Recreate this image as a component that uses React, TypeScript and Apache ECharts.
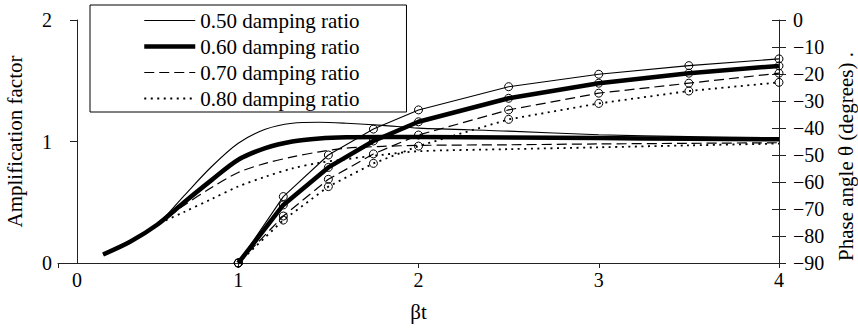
import React, { useEffect, useRef } from 'react';
import * as echarts from 'echarts';

// ---- Data ----
const seriesNames = ['0.50 damping ratio', '0.60 damping ratio', '0.70 damping ratio', '0.80 damping ratio'];

// Amplification factor curves (left axis), sampled at ampX
const ampX = [0.25, 0.4, 0.55, 0.7, 0.85, 1.0, 1.15, 1.3, 1.45, 1.6, 1.8, 2.0, 2.5, 3.0, 3.5, 4.0];
const amp50 = [0.07, 0.175, 0.315, 0.555, 0.79, 0.985, 1.1, 1.15, 1.158, 1.15, 1.133, 1.11, 1.085, 1.055, 1.04, 1.03];
const amp60 = [0.07, 0.175, 0.315, 0.5, 0.68, 0.85, 0.945, 1.0, 1.025, 1.035, 1.037, 1.037, 1.033, 1.028, 1.022, 1.018];
const amp70 = [0.07, 0.175, 0.315, 0.475, 0.62, 0.745, 0.82, 0.873, 0.915, 0.945, 0.96, 0.968, 0.973, 0.98, 0.985, 0.99];
const amp80 = [0.07, 0.175, 0.315, 0.42, 0.525, 0.63, 0.71, 0.778, 0.825, 0.855, 0.89, 0.92, 0.937, 0.952, 0.968, 0.983];

// Phase angle curves (right axis), with circle markers
const phaseX = [1, 1.25, 1.5, 1.75, 2, 2.5, 3, 3.5, 4];
const phase50 = [-90, -65.4, -50, -40.4, -33.3, -24.7, -20.1, -16.9, -14.4];
const phase60 = [-90, -68.5, -54.6, -44.8, -37.7, -29, -23.4, -19.7, -17];
const phase70 = [-90, -72.6, -59, -49.6, -42.6, -33.3, -27.1, -23.4, -19.7];
const phase80 = [-90, -74.1, -61.7, -53.1, -46.7, -36.8, -30.9, -26.3, -23.1];

// Axis ticks
const xTickValues = [0, 1, 2, 3, 4];
const xLabelValues = [0.105, 1, 2, 3, 4];

const amps = [amp50, amp60, amp70, amp80];
const phases = [phase50, phase60, phase70, phase80];

// ---- Styles ----
const FONT = 'Liberation Serif';
const lineStyles = [
  { width: 1.1, type: 'solid' as any },
  { width: 4.5, type: 'solid' as any },
  { width: 1.2, type: [10, 5] as any },
  { width: 1.8, type: [2, 4.5] as any },
];

const zip = (xs: number[], ys: number[]) => xs.map((x, i) => [x, ys[i]]);
const minus = (v: number) => (v < 0 ? '\u2212' + Math.abs(v) : String(v));

export default function App() {
  const ref = useRef<HTMLDivElement>(null);

  useEffect(() => {
    if (!ref.current) return;
    const chart = echarts.init(ref.current, undefined, { renderer: 'svg' });

    const series: any[] = [];
    seriesNames.forEach((name, i) => {
      series.push({
        name,
        type: 'line',
        xAxisIndex: 0,
        yAxisIndex: 0,
        data: zip(ampX, amps[i]),
        symbol: 'none',
        smooth: 0.3,
        lineStyle: { color: '#000', ...lineStyles[i], cap: 'butt' },
        itemStyle: { color: '#000' },
        z: 2,
      });
    });
    seriesNames.forEach((name, i) => {
      series.push({
        name,
        type: 'line',
        xAxisIndex: 0,
        yAxisIndex: 1,
        data: zip(phaseX, phases[i]),
        symbol: 'circle',
        symbolSize: 8,
        showAllSymbol: true,
        smooth: false,
        lineStyle: { color: '#000', ...lineStyles[i] },
        itemStyle: { color: 'rgba(0,0,0,0)', borderColor: '#000', borderWidth: 1 },
        z: 3,
      });
    });

    const axisFont = { fontFamily: FONT, fontSize: 20, color: '#000' };

    chart.setOption({
      animation: false,
      backgroundColor: '#fff',
      grid: { left: 58, right: 79, top: 20, bottom: 66, containLabel: false, outerBoundsMode: 'none' },
      legend: {
        data: seriesNames,
        orient: 'vertical',
        left: 90,
        top: 5,
        itemWidth: 51,
        itemHeight: 14,
        itemGap: 5,
        padding: [5, 47, 3, 52],
        borderColor: '#000',
        borderWidth: 1,
        selectedMode: false,
        itemStyle: { opacity: 0 },
        lineStyle: { width: 'inherit' },
        textStyle: { fontFamily: FONT, fontSize: 21, color: '#000', lineHeight: 20 },
      },
      xAxis: {
        type: 'value',
        min: 0,
        max: 4,
        interval: 1,
        name: 'βt',
        nameLocation: 'middle',
        nameGap: 38,
        nameTextStyle: { fontFamily: FONT, fontSize: 21, color: '#000' },
        axisLine: { onZero: false, lineStyle: { color: '#222', width: 1 } },
        axisTick: { show: true, length: 5, customValues: xTickValues, lineStyle: { color: '#222' } },
        axisLabel: {
          ...axisFont,
          margin: 7,
          customValues: xLabelValues,
          formatter: (v: number) => String(Math.round(v)),
        },
        splitLine: { show: false },
      },
      yAxis: [
        {
          type: 'value',
          position: 'left',
          offset: -19,
          min: 0,
          max: 2,
          interval: 1,
          name: 'Amplification factor',
          nameLocation: 'middle',
          nameRotate: 90,
          nameGap: 52,
          nameTextStyle: { fontFamily: FONT, fontSize: 21, color: '#000' },
          axisLine: { show: true, lineStyle: { color: '#222', width: 1 } },
          axisTick: { show: true, length: 7, lineStyle: { color: '#222' } },
          axisLabel: { ...axisFont, margin: 25 },
          splitLine: { show: false },
        },
        {
          type: 'value',
          position: 'right',
          min: -90,
          max: 0,
          interval: 10,
          name: 'Phase angle θ (degrees) .',
          nameLocation: 'middle',
          nameRotate: 90,
          nameGap: 55,
          nameTextStyle: { fontFamily: FONT, fontSize: 21, color: '#000', padding: [0, 30, 0, 0] },
          axisLine: { show: true, lineStyle: { color: '#222', width: 1 } },
          axisTick: { show: true, length: 7, lineStyle: { color: '#222' } },
          axisLabel: { ...axisFont, margin: 14, formatter: minus },
          splitLine: { show: false },
        },
        {
          type: 'value',
          position: 'right',
          min: -90,
          max: 0,
          interval: 10,
          axisLine: { show: false },
          axisTick: { show: true, inside: true, length: 7, lineStyle: { color: '#222' } },
          axisLabel: { show: false },
          splitLine: { show: false },
        },
      ],
      series,
    });

    return () => chart.dispose();
  }, []);

  return (
    <div
      ref={ref}
      style={{ position: 'fixed', left: 0, top: 0, width: 858, height: 329, background: '#fff' }}
    />
  );
}
